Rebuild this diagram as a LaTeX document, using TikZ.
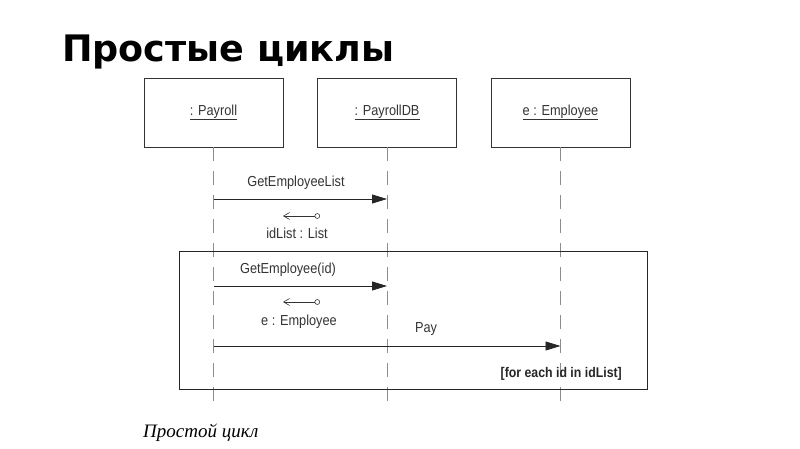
\documentclass[tikz,border=0pt]{standalone}
\usepackage{fontspec}
\setmainfont{Liberation Sans}
\newfontfamily\titlefont{DejaVu Sans}
\newfontfamily\capfont{Liberation Serif}
\newfontfamily\umlfont[FakeStretch=0.88]{Liberation Sans}
\usetikzlibrary{arrows.meta}
\begin{document}
\begin{tikzpicture}[x=1pt,y=-1pt,
  obj/.style={draw=black!80,line width=0.8pt,minimum width=139pt,minimum height=69pt,inner sep=0pt,font=\umlfont\fontsize{14.5}{16}\selectfont,text=black!80},
  life/.style={draw=black!45,line width=0.8pt,dash pattern=on 14pt off 10pt},
  msg/.style={draw=black!85,line width=0.8pt,-{Triangle[length=15pt,width=9pt]}},
  ret/.style={draw=black!80,line width=0.6pt,{Straight Barb[length=6pt,width=7pt]}-{Circle[open,length=5.5pt,width=5.5pt]}},
  lbl/.style={font=\umlfont\fontsize{14.5}{16}\selectfont,text=black!80,inner sep=0pt},
  frame/.style={draw=black!85,line width=1pt}]
\useasboundingbox (0,0) rectangle (800,449);
\node[anchor=base west,inner sep=0pt,font=\titlefont\bfseries\fontsize{36.5}{42}\selectfont] (title) at (62,62) {Простые циклы};
\node[obj] (payroll) at (213.5,112.5) {\underline{: Payroll}};
\node[obj] (db) at (387,112.5) {\underline{: PayrollDB}};
\node[obj] (emp) at (560.5,112.5) {\underline{e : Employee}};
\coordinate (pe) at (213.5,410);
\coordinate (de) at (387,410);
\coordinate (ee) at (560.5,410);
\draw[life] (payroll.south) -- (pe);
\draw[life] (db.south) -- (de);
\draw[life] (emp.south) -- (ee);
% loop frame
\draw[frame] (179,251) rectangle (647,389);
\node[lbl,font=\umlfont\bfseries\fontsize{14}{16}\selectfont,text=black!85,anchor=base east] (cond) at (622,377) {[for each id in idList]};
% messages
\coordinate (m1a) at (213.5,199);
\coordinate (m1b) at (387,199);
\draw[msg] (m1a) -- (m1b);
\node[lbl,anchor=base] (m1l) at (296,187) {GetEmployeeList};
\coordinate (r1a) at (283,216);
\coordinate (r1b) at (320,216);
\draw[ret] (r1a) -- (r1b);
\node[lbl,anchor=base] (r1l) at (297,238) {idList : List};
\coordinate (m2a) at (213.5,286);
\coordinate (m2b) at (387,286);
\draw[msg] (m2a) -- (m2b);
\node[lbl,anchor=base] (m2l) at (288,273) {GetEmployee(id)};
\coordinate (r2a) at (283,302);
\coordinate (r2b) at (320,302);
\draw[ret] (r2a) -- (r2b);
\node[lbl,anchor=base] (r2l) at (299,325) {e : Employee};
\coordinate (m3a) at (213.5,346);
\coordinate (m3b) at (560.5,346);
\draw[msg] (m3a) -- (m3b);
\node[lbl,anchor=base] (m3l) at (426,332) {Pay};
\node[anchor=base west,inner sep=0pt,font=\capfont\itshape\fontsize{19}{21}\selectfont] (cap) at (143,437) {Простой цикл};
\end{tikzpicture}
\end{document}
